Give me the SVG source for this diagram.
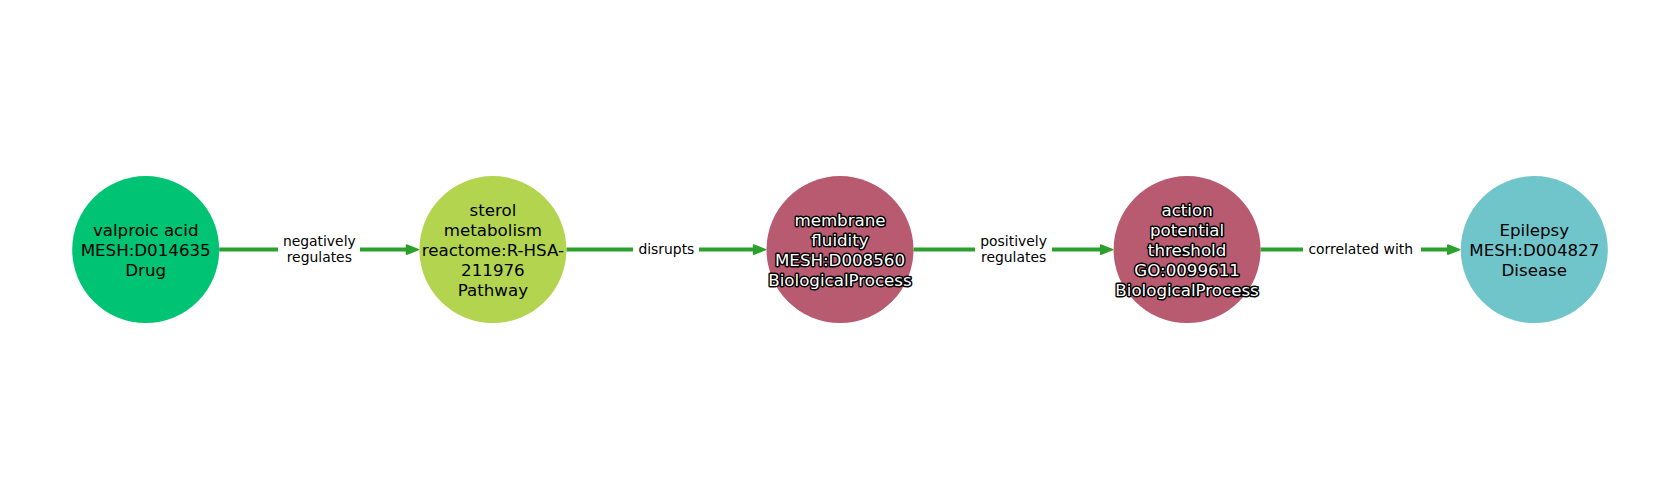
<svg xmlns="http://www.w3.org/2000/svg" width="1680" height="500" viewBox="0 0 1680 500">
<style>
.nt{font-family:"DejaVu Sans",sans-serif;font-size:16.67px;text-anchor:middle;fill:#000}
.wt{font-family:"DejaVu Sans",sans-serif;font-size:16.67px;text-anchor:middle;fill:#fff;stroke:#000;stroke-width:3px;stroke-linejoin:round;paint-order:stroke}
.el{font-family:"DejaVu Sans",sans-serif;font-size:13.9px;text-anchor:middle;fill:#000}
.edge{stroke:#2ca02c;stroke-width:4;fill:none}
.ah{fill:#2ca02c;stroke:#2ca02c;stroke-width:1.5;stroke-linejoin:round}
.lb{fill:#fff}
</style>
<rect width="1680" height="500" fill="#fff"/>
<g id="connectors">
  <line class="edge" x1="219.2" y1="249.6" x2="408" y2="249.6"/>
  <polygon class="ah" points="418.5,249.6 406.5,245 406.5,254.2"/>
  <rect class="lb" x="278" y="234" width="82" height="32"/>
  <text class="el" x="319.3" y="246.4">negatively</text>
  <text class="el" x="319.3" y="262.4">regulates</text>

  <line class="edge" x1="566.4" y1="249.6" x2="755" y2="249.6"/>
  <polygon class="ah" points="765.6,249.6 753.6,245 753.6,254.2"/>
  <rect class="lb" x="633" y="240" width="66" height="20"/>
  <text class="el" x="666.4" y="254.4">disrupts</text>

  <line class="edge" x1="913.5" y1="249.6" x2="1102" y2="249.6"/>
  <polygon class="ah" points="1112.7,249.6 1100.7,245 1100.7,254.2"/>
  <rect class="lb" x="975" y="234" width="77" height="32"/>
  <text class="el" x="1013.6" y="246.4">positively</text>
  <text class="el" x="1013.6" y="262.4">regulates</text>

  <line class="edge" x1="1260.6" y1="249.6" x2="1449" y2="249.6"/>
  <polygon class="ah" points="1459.8,249.6 1447.8,245 1447.8,254.2"/>
  <rect class="lb" x="1303" y="240" width="118" height="20"/>
  <text class="el" x="1360.7" y="254.4">correlated with</text>
</g>
<g id="node-valproic-acid">
  <circle cx="145.7" cy="249.6" r="73.5" fill="#00c373"/>
  <text class="nt" x="145.7" y="235.6">valproic acid</text>
  <text class="nt" x="145.7" y="255.6">MESH:D014635</text>
  <text class="nt" x="145.7" y="275.6">Drug</text>
</g>
<g id="node-sterol-metabolism">
  <circle cx="492.9" cy="249.6" r="73.5" fill="#b2d44e"/>
  <text class="nt" x="492.9" y="215.6">sterol</text>
  <text class="nt" x="492.9" y="235.6">metabolism</text>
  <text class="nt" x="492.9" y="255.6">reactome:R-HSA-</text>
  <text class="nt" x="492.9" y="275.6">211976</text>
  <text class="nt" x="492.9" y="295.6">Pathway</text>
</g>
<g id="node-membrane-fluidity">
  <circle cx="840" cy="249.6" r="73.5" fill="#b85a70"/>
  <text class="wt" x="840" y="225.6">membrane</text>
  <text class="wt" x="840" y="245.6">fluidity</text>
  <text class="wt" x="840" y="265.6">MESH:D008560</text>
  <text class="wt" x="840" y="285.6">BiologicalProcess</text>
</g>
<g id="node-action-potential-threshold">
  <circle cx="1187.1" cy="249.6" r="73.5" fill="#b85a70"/>
  <text class="wt" x="1187.1" y="215.6">action</text>
  <text class="wt" x="1187.1" y="235.6">potential</text>
  <text class="wt" x="1187.1" y="255.6">threshold</text>
  <text class="wt" x="1187.1" y="275.6">GO:0099611</text>
  <text class="wt" x="1187.1" y="295.6">BiologicalProcess</text>
</g>
<g id="node-epilepsy">
  <circle cx="1534.3" cy="249.6" r="73.5" fill="#70c5ca"/>
  <text class="nt" x="1534.3" y="235.6">Epilepsy</text>
  <text class="nt" x="1534.3" y="255.6">MESH:D004827</text>
  <text class="nt" x="1534.3" y="275.6">Disease</text>
</g>
</svg>
